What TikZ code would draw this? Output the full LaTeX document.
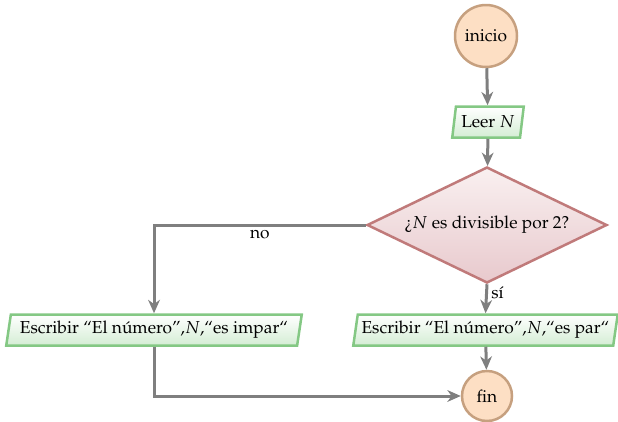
\documentclass[tikz,border=0pt]{standalone}
\usepackage[T1]{fontenc}
\usepackage{mathpazo}
\usetikzlibrary{shapes.geometric,arrows.meta}

\definecolor{termfill}{HTML}{FDDFC4}
\definecolor{termdraw}{HTML}{C6A07F}
\definecolor{iodraw}{HTML}{84C884}
\definecolor{iofill}{HTML}{D4EDD4}
\definecolor{decdraw}{HTML}{C07A7A}
\definecolor{dectop}{HTML}{F9F0F0}
\definecolor{decbot}{HTML}{E8C9CD}
\definecolor{flowline}{HTML}{7F7F7F}

\tikzset{
  every node/.style={font=\fontsize{10.4}{12.5}\selectfont},
  terminal/.style={circle, draw=termdraw, fill=termfill, line width=1.5pt,
    inner sep=0pt},
  iobox/.style={trapezium, trapezium left angle=76, trapezium right angle=104,
    draw=iodraw, top color=white, bottom color=iofill, line width=1.5pt,
    inner sep=0pt, minimum height=18.6pt, trapezium stretches=true},
  decision/.style={diamond, shape aspect=2.07, draw=decdraw, top color=dectop,
    bottom color=decbot, line width=1.5pt, inner sep=0pt,
    minimum width=144pt, minimum height=69.6pt},
  flow/.style={draw=flowline, line width=1.8pt,
    -{Stealth[length=8pt,width=7pt,inset=2.5pt]}},
  flowlabel/.style={inner sep=2pt}
}

\begin{document}
\begin{tikzpicture}[x=0.6pt, y=-0.6pt]
  \useasboundingbox (0,0) rectangle (618,421);

  \node[terminal, minimum size=37.2pt] (inicio) at (486,36) {inicio};
  \node[iobox, minimum width=43pt] (leer) at (488,122) {Leer $N$};
  \node[decision] (cond) at (487,225) {?`$N$ es divisible por 2?};
  \node[iobox, minimum width=177.6pt] (impar) at (154,330)
    {Escribir ``El n\'umero'',$N$,``es impar``};
  \node[iobox, minimum width=159pt] (par) at (485.5,330)
    {Escribir ``El n\'umero'',$N$,``es par``};
  \node[terminal, minimum size=30pt] (fin) at (487,396) {fin};

  \draw[flow] (inicio) -- (leer);
  \draw[flow] (leer) -- (cond);
  \draw[flow] (cond.west) -| node[flowlabel, below, pos=0.25] {no} (impar.north);
  \draw[flow] (cond.south) -- node[flowlabel, right, pos=0.3] {s\'{\i}} (par.north);
  \draw[flow] (par) -- (fin);
  \draw[flow] (impar.south) |- (fin.west);
\end{tikzpicture}
\end{document}
